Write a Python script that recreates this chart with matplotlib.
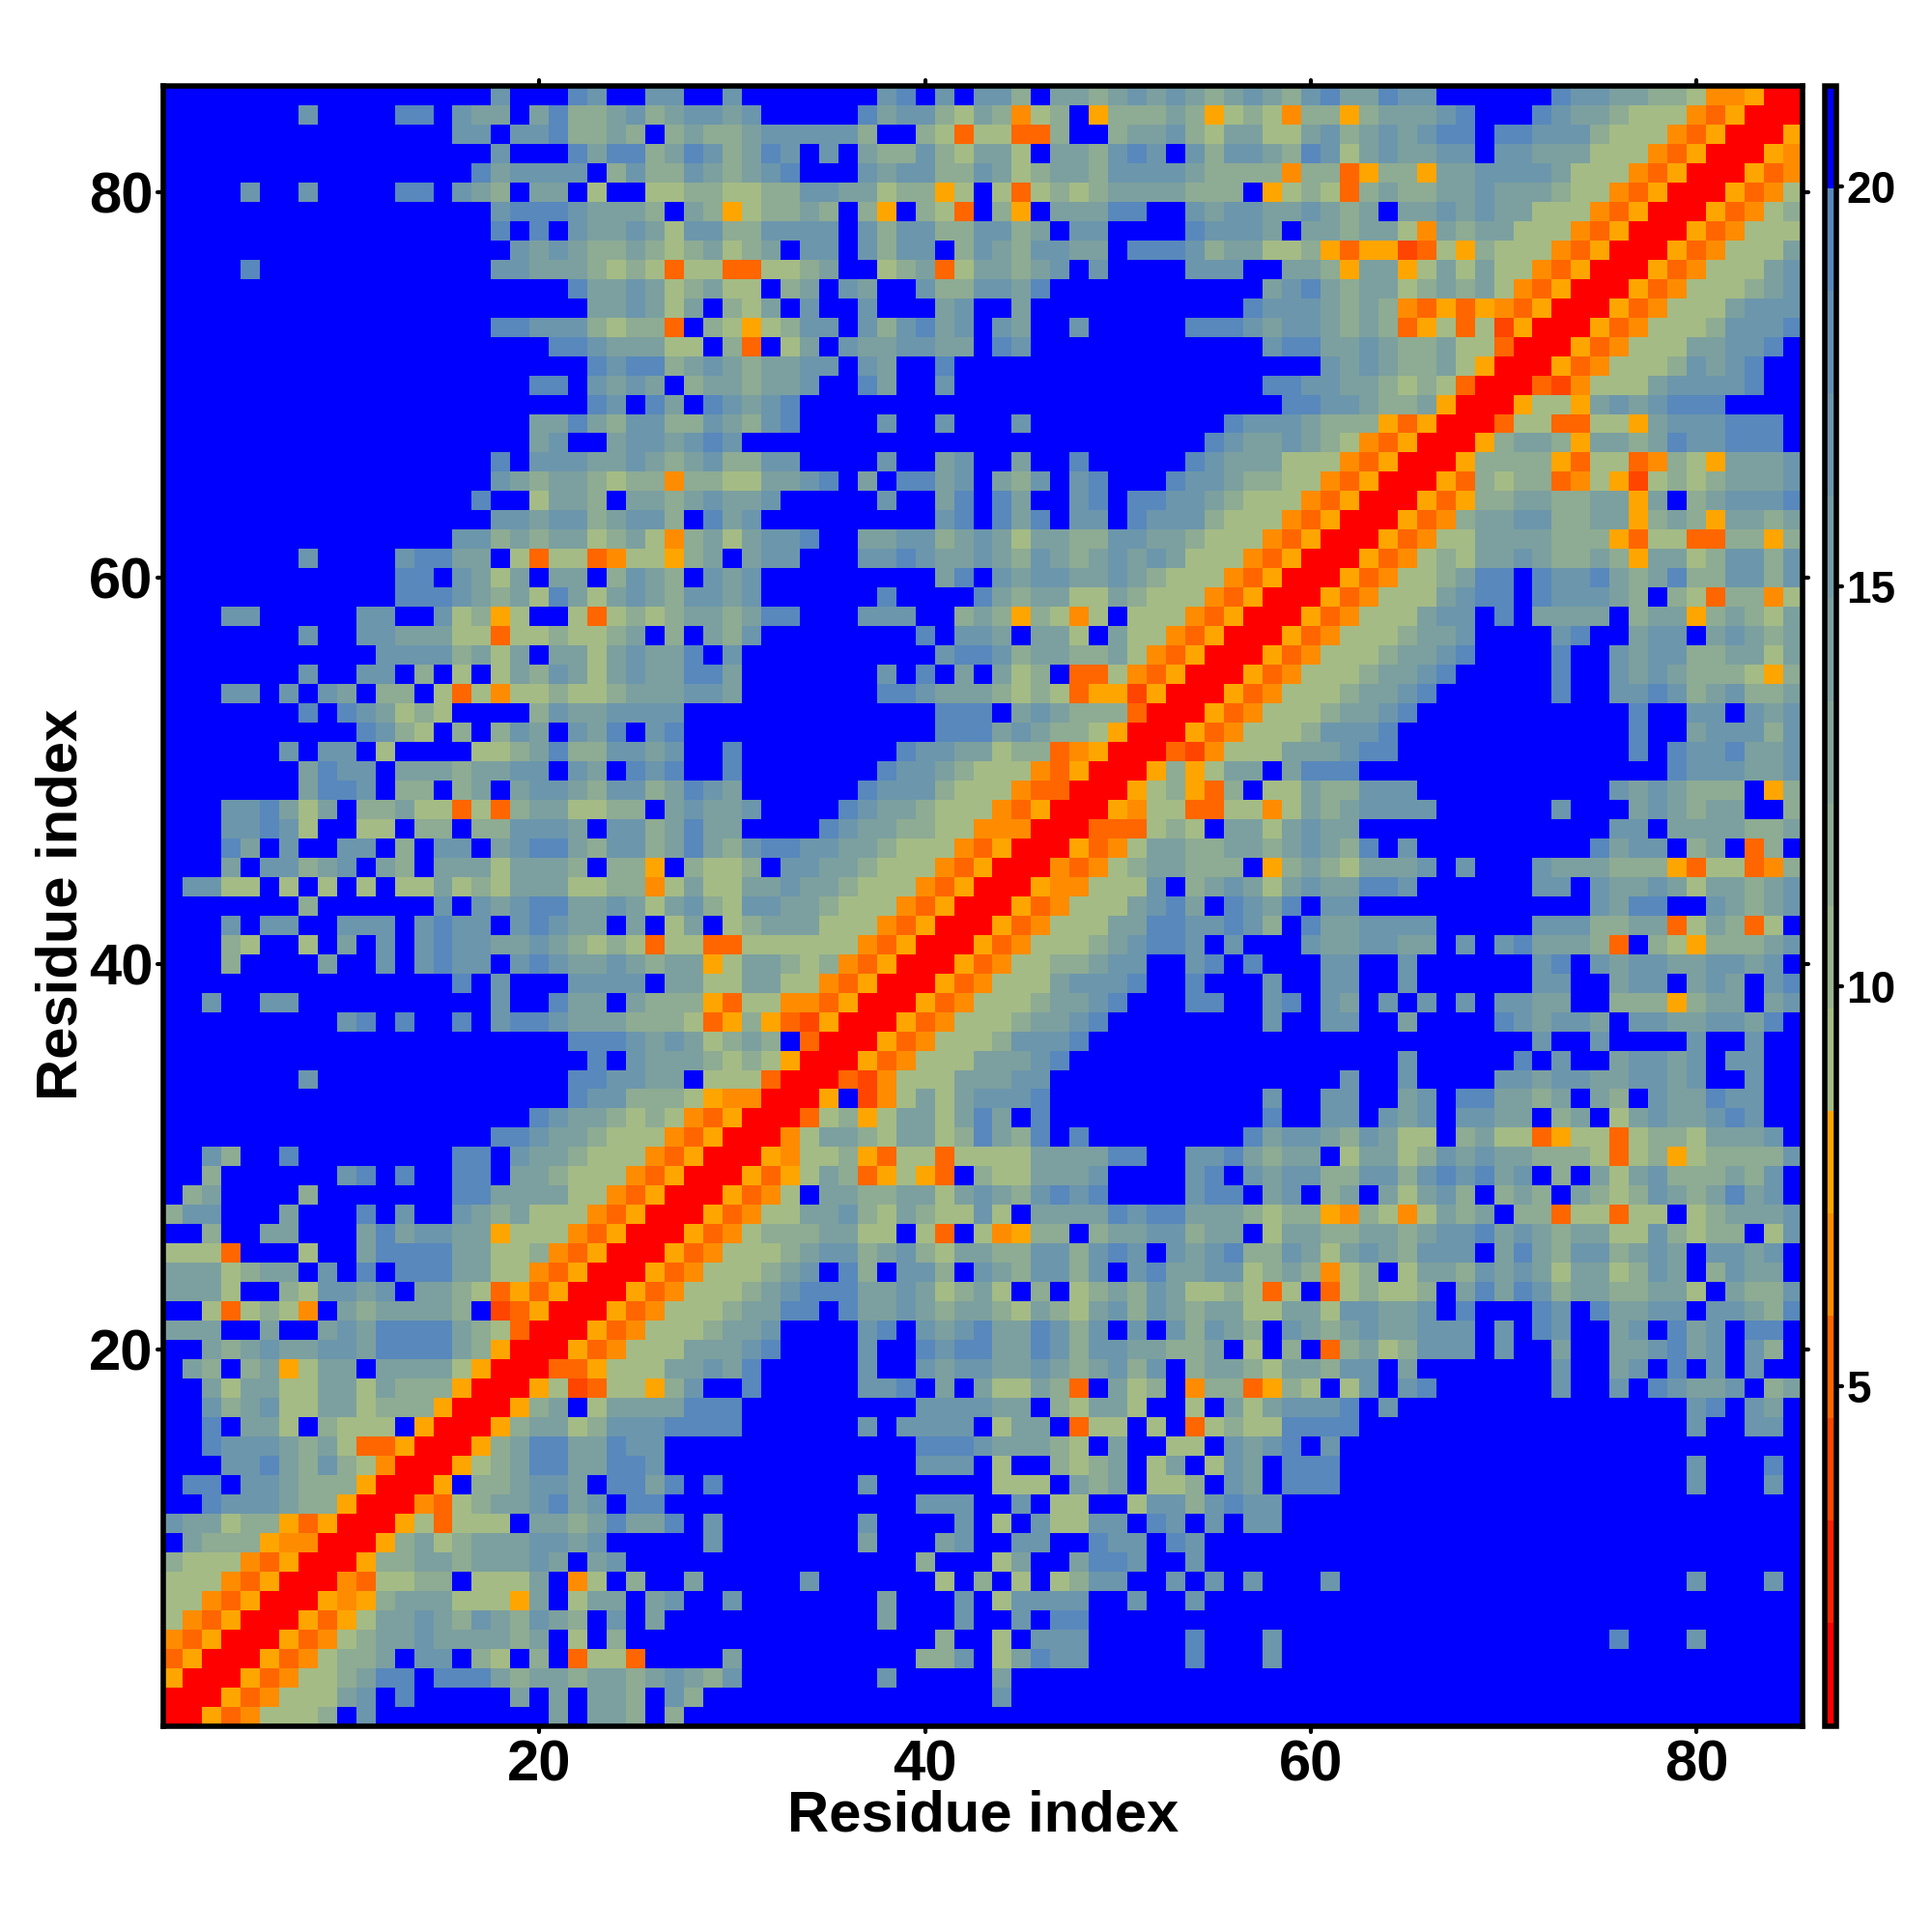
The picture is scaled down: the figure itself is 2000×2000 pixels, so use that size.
import numpy as np
import matplotlib
matplotlib.use("Agg")
import matplotlib.pyplot as plt
from matplotlib.colors import ListedColormap, BoundaryNorm
from matplotlib.markers import MarkerStyle, TICKLEFT, TICKRIGHT, TICKUP, TICKDOWN

plt.rcParams['font.family'] = ['Liberation Sans', 'DejaVu Sans']
plt.rcParams['font.weight'] = 'bold'

# distance map, run-length per row, top row (residue 85) first
# 3 columns of blocks: residues 1-28, 29-57, 58-85
top_left = [
"17b u 3b s u 2b 2u b",
"7b u 4b 2s b u 2t b t s 2h t u h t u",
"15b 2u b 2u s 2h t h b h t",
"17b u 3b s t 2s h t s",
"16b s t 4u b h u 2h u",
"4b u 2b u 4b 2s b u t h b 2t b g 2b 2g h",
"17b u 3s u t 2t h b t",
"17b s b s b u 2t u t g u",
"18b u t u t 2h t h g h",
"4b s 12b 2u 3t h g h g o g",
"21b s 2t u t g h",
"22b 2t u t g t",
"17b 2s 3u h g 2h o b",
"20b 2s u t 2t 2g",
"22b s u 2s h t",
"19b 2s b u t u t b h",
"22b s u b s t b",
"19b 2t s t h 2u 2h",
"19b t u 2b t 2u t u",
"17b s b 3u 2t u t h t",
"17b u t h 2t h g 2h O h",
"16b s 2b g 2t h b 2t h t",
"17b 2u t 2u h t 2u h b",
"15b 2u h t h 2t g h t g O h",
"7b u 4b u 2s 2t b g o 2g o O 2g y h",
"12b 2s b u t g t b 2t b h u t h b",
"12b 3s u t h t g s t g t u t h u",
"3b 2u 5b 2u 2b u g h y g 2b g o g h g h t",
]
top_mid = [
"b u 7b u s b u b 2u h b t t h t u t u t h t u",
"u t u 5b s t 2u h g t h O g h b y 3h t h y g h",
"2h t 5u h 2b h g o 2g 2o h 2b h 2t u h g 2t",
"u h t s u b u b t 2h u h g 2t g b 2t h u s u b u h 2u",
"t h t u s 3b u t 2u 2h u t g h 2t h 4u t 3h",
"h 2g 2h 2u 2t g 2h y g b g o g h g h 4t 2h h b",
"h y g 2h t h b h y b h g o b h y b 3t 2s 2b u t 2u",
"u 2h 4u b u h 2u 2h 2u h t b 2u 4b s 3u",
"t g h t b 2u b u h 2u b h u t h 2u 2t b 3s u h 2t",
"g 2o 2g h t 2b g h t o g 2t h t u b u 4b 3u b",
"t 2g b h t b u t 2b u 2h 2u t s 11b",
"b h g t b u 2b u 3b t u 2b t 11b s",
"h g y g h 2u b u h u s t u b u t 2b u 5b 3s u",
"b h o b g t b u 2t 2u 2t b s u 12b",
"u t h 2t 2u b u t 2b s 16b",
"2t h 2t u 2b s t 2b u 16b",
"s u t u s 24b",
"u t h u s 4b u 2b u 3b u 10b s u",
"s u 24b s u t",
"u 2h 2u 4b u 2b t u 2b t 2b s 5b s u 2t",
"h 2g 2t u s b t b 2s t u b t h u b u s 3b s 2u t h",
"u 2t u 5b u 2b t s b s t 2b u s b 2s u u t h g",
"s t u 9b u s b s t s b 2u b s 3u h 2g",
"t g t 2u s 2b 2t 2u h t u t g 2t 2h 2u 2t h 3g",
"t b t 2u 3b 2u s u 2t u t h u t h t u t u t 3g O",
"u t u 9b t s b u t 2u 2t u t h 3g O o",
"u t u 6b s 4b s t h 2t 2g t h 3g O o y",
"t h t 2s 3b 3u 2b h t h y h g O g b 3g O o y R",
]
top_right = [
"t h u s 2t s 2u 6b s 2u 2t 2h g 2O y 2R",
"g O 2h y h 3t u s 3b s u 2t h 3g O o y 3R",
"2g t u h t u t u 2s b 2s 3u h 3g O o y 3R y",
"t h s u g t u 2t 2u b 2u 3t 3g O o y 3R y O",
"h O 2h o y 2h y 2t 4u t 3g O o y 3R y o O",
"y g h g o h t 2h 2t u 3t h 2g O o y 3R y o O g",
"2t u t h t b 2t u t u 2t 3g O o y 3R y o O g h",
"t b 2t h 2t g O t h 2t 3g O o y 3R y o O 3g",
"2g h y o 2y x o g y h 3g O o y 3R y o O 3g t",
"b 2t h y 2t y g t g t 2g O o y 3R y o O 3g t u",
"t u s t h 2t g h t h t g O o y 3R y o O 3g h t u",
"3u t h t h O o y o y O o y 3R y o O 3g t 3u",
"t 2u t h t h o y g o g x y 3R y o O 3g h 3u s",
"u 2s 2t u t 2h t 2g o 3R y o O 3g 2t 2u s b",
"3b u t u t 2h t g y 3R y o O 3g h u t u s 2b",
"2s 2u 2t h g h g o 3R o x O 3g t 4u s 2b",
"b 2s 2u t 2h t y 3R y 2g y t u t u 3s 4b",
"2u t 3h y o y 3R o 2g 2o 2g y t 3u 3s b",
"t u t h g O o y 3R y h 2t h y 2t h t s 2u 3s b",
"t 3g O o y 3R y 4h y o 2g o O h g y 3t u",
"h 2g O o y 3R y o h g 2h o O g y x g h g h 3t u",
"2g O o y 3R y o y 2h 2t 2h 2t y t b h t 3u s",
"g O o y 3R y o O h 2t 2u 2h 2t y h t h y 2t h t",
"O o y 3R y o O 2g 4t 3h y o 2g 2o 2h y h",
"o y 3R y o O g h g 2t u t 2h t h y 2t g h 2u h u",
"y 3R y o O 2g h t 2s b s 2u s t h t s 2h 2u h u",
"3R y o O 3g t u 2s b s 3u t h b h g o 2h O g",
"2R y o O 3g t 2u b s b 4t b h 2t y h t h g t",
]
mid_left = [
"7b u 2b 2u 3t 2g o 2g h 2g h t b h b",
"11b 4u h t g t b 2t g t u 2t s",
"7b u 2b 2u b h b g b g t h u t g t u 2t s",
"3b 2u b u b u t b 2h b g o g O 2g h 2g h 3t u",
"7b s b s u t g h g 4b h u 2t 4u b",
"10b s u h g b h b h u t b u t s b u s b",
"6b u b 2u b g 4b 2g h t s 2h 2u t u b",
"7b t s 2u b 3t h 2t 2u b u t b s u s b",
"7b t 2s u b 2h b h t b t 2u t h 2u h t s",
"3b 2u s t g t b 2h t 2g o g o h 2t 2g 2h b t u",
"3b 2u s u g 2b 2g b 2h b 2h 3u t b 2u h t s",
"3b s t b u 2b 2u b h b 2u b t u 2s t h 2u h t s",
"3b t b 2u h t u b t h b 3t g 3t h b 2h y b h",
"b 2u 2g b g b g b g b 2g t g h g 3t 2g 2h O g t",
"7b h 6b u b u t u 2s 2t u t g t u",
"3b u b 2u 2b 3u b u s 2u b u s u 2t b t b g t",
"3b h g 2b g b t b u b u s 2u 2t u t h g h g o 2g",
"3b h 4b t 2b u b u s 2u b u s u 2t u t h 2t",
"15b s b u 3b 4u b 2t",
"2b u 2b 2u 10b u 2b s 2t b t 3h",
"9b u s b s 2b s b u 2s u 3t 3h g",
"21b 3s u t u t",
"22b s b u 3t",
"7b u 13b 2s 2u 2t b",
"21b s 2u 3h g",
"19b s u 2t h g h g O",
"17b 2s u 2t h 3g O o",
"2b u h 2b s 8b 2s b u 2t h 3g O o y",
"2b h 6b u s b s 2b 2s b 2t h 3g O o y R",
]
mid_mid = [
"t h u 8b s b 2u t b 2t g b t 2g O o y 2R",
"b u 10b u 2s u h 2t 2h t g O o y 3R",
"s t 7b u b s b t b t g h b 2o g O o y 3R y",
"u t 7b 2s u 3t h g h g o 2y x y 3R y o",
"12b 3s b t u t 3h o 3R y o O",
"12b 3s t u t 2h g y 3R y o O g",
"b s 8b s 2u 2t g 2h o O y 3R o x O 2g",
"b s 7b s 2u t h 3g O o y 3R y h y g 2t",
"u t 6b s 3u h 3g O 2o 3R y g h y o h b",
"2t u 4b s u 2t h 3g O o y 3R y O 2g 2o 2g",
"2t 4b s u 2t 2h 2g 3O 3R 3o g h g b 2t",
"t h u 2s 2u 2t h 3g O o y 3R y o O g 2t 2h 2t",
"2g h b 2u 2t h 3g O o y 3R O o O g h 2t 3h b",
"2g 2t u 2t h 3g O o y 3R y 2O 3g u b h t u t",
"h g 2u 2t h 3g O o y 3R y o O 3g t u s t b s u",
"b g h 3t 3g O o y 3R y o O 3g 2t 2s 2u s u",
"2o 6g O o y 3R y o O 3g h t u 2s u b u b",
"y g 2t h g h O o y 3R y o O 2g 2h t 2u 2b u s b s",
"2g 2t 2g O o y 3R y o O 3g t 3u s 2b s 3b",
"y o 2g 2O o y 3R y o O 3g h 2t u s 3b 2s 2b",
"o y h y o x y 3R y o O 3g h 2t u s 8b",
"g h t h b o 3R y o O 3g h 3u s 9b",
"h g h g y 3R y o O 3g t 2t u s 10b",
"3g o 3R o x O 3g t 2t 2u 11b",
"y 2O 3R y b x O g t g t 3u s 11b",
"o y 3R o g h y g 2t g t s t b s 11b",
"y 3R O g 2t h g 2t g h s t h s b s 8b s",
"3R y O 2g h y o 2g o 4g t 3t 2s 2b 2u s t",
"2R y o y g t h o y g y o b h 2g t 2t u 4b u s b u",
]
mid_right = [
"R y o O 3g h 2t u 4b u s 2b t 2u b t u t h t",
"y o O 3g h 2t u s 4b s 2b u t 2u 2h 2t g t",
"o O 3g h 2t u s 5b s 2b u t u t 3h g y h",
"O 3g h 2t u s 6b s 2b 2u s u h t u 2h t",
"3g h 2t u s 11b s 2b 2u b u t u",
"2g h 3u s 12b s 2b t 3u h u",
"g 3t u 2s 12b s b s 2u s 2t u",
"b t 3s 16b s 3u 2t u",
"2g t 2h 3u 10b u t u t 3h b y h",
"O g t h t 4u 6b u 3b t u t h 2t 2b h",
"g t u 2t 13b 2u b 4t 2h t",
"h t u t h s b u 9b s t 2u b h t b o h b",
"y h t h g 3t u b u 3b u 3t 3h y o 2g o O h",
"g t u 2t 2s u 6b 2u b u 2t u t g 2t h t u",
"t s b 2u 12b u t 2s 2b u t h t u",
"h b s 2t 3u u 5b 3u 2h 2t o g t h o g b",
"2b u 2t 2u 2t b u b u s 3t h o b h g y 3h t u",
"3b 2u 2b u 6b u s b u t 2u 2t 2u t u b",
"u 2b 2u 2b u 6b 2u 2b t 2u b t u t b u s",
"u s b u t b u b u b u b 2u 2t 2b 3h y h 2t b t u",
"u 2b 2u 2b t 4b s u t 2u t b 2u 2t 2u t s b",
"14b u 2b u 4b u 2b u 2b",
"7b u 5b s b u 2b t 2u t u b 2u 2b",
"4b u 2b u 4b 2u t 2u 2t 2u t u 2b u 2b",
"u 2b 2u 2b t u b 2s 2t h t b t h b u 2t s 2u 2b",
"s 2b 2u b u t u b 2u 2t b h t b g t u 2t u s u 2b",
"t 2u t h u t 2g b h t 2g o y 2g o g 2h g 3t u b",
"h 2t b g 2t g h u t u 2t 3h g o g h y g 4h u",
"t 2u 2h 2u h u s u s t u b h b t g t u 3h t h u b",
]
low_left = [
"b h t 4b h 7b 2s t 2t t 2g O o y 2R",
"h 2u 3b t 3b s b u 2b u t h t 3g O o y 3R",
"2b h 2b 2t 3b t s t 2u 2t y 3g O o y 3R y",
"3g o 3b g 2b t 4s 2t 2g h O o y 3R y o",
"3t g h 2t b u b s b 3s 2t 2g O o y 3R y o O",
"3t g 2b h g 2u t u b 2t h g o y o y 3R y o O g",
"2b g o g h g O b t h 4t h b x o y 3R y o O 2g",
"3t 2b t 2b t u t 4s t h g o 3R y o O 3g",
"2b t h t u 2t 2u t 4s t h y 3R y o O 3g t",
"b t h b h t y g 2t b 4t g y 3R 2o y 3g 2t",
"2b t g 2t 2g 2t g t 3h y 3R y g x o 2g y h u",
"2b u h t u 2g 2t g 3h y 3R y h t b g 4t s",
"2b s b 2t g b h 3g b y 3R y h 2t g h 3u 2s",
"2b s u 2u t h t g 2o y 3R y h t 2s 2t s 2u 2b",
"3b 2u s t h u h g O 3R y g h t 2s 2t 2s u 2b",
"b 2s b 2u t 3h y 3R y b 2h t 2u t b 2s t s b",
"2b s 3u t 2h y 3R O o g h 2t u s t u b 2s 2b",
"u 2t g 2h y o y 3R y g o 3g b 2t h t s 2t s b",
"b t 3h y 2O 3R y h t g h 3t 2u t u 5b",
"h 3g O o y 3R y 2h 2t h 3t u t b t u 4b",
"3g O o y 3R O o 2g 2h b 3g t b O g b h 2b t",
"2g O o y 3R y O y h 3t 3g y t b g 2t b t u b",
"g O o y 3R y o y g 2t u t h u t h u t h b u b t 2b",
"O o y 3R y o O g h 2t u 4t h t b g b h 4b",
"o y 3R y o O g 2h t b 2u b h g b h b o 2g o 3b",
"y 3R y o O 2g h t 2s b 3s t h 2t h 2t h t u t",
"3R y o O 3g t u b s 5b t b t b 2t h b u h",
"2R y o O 3g h b u 9b t b 2t h b h b",
]
low_mid = [
"R y o O g b 2t 2h 2t g t u t h u s u s 4b u 2s b",
"y o O 2g 2t u h g t h 2g u g b 3t t s u 2s 3t h",
"o O g 3h 2t 2g b g o b g O y 2h b h 2t 2u h 2t b",
"O 3g h t 2u h t u h g 2t 2h 2u h u s u b u t u s h",
"3g h t u b s h b 2u h b u t h 2u h u b u s 2t 2u g",
"2g h t u 3s 2t u t g h t g b h b g h t h u t 2g h g",
"g h 2t 2s b s 2t u t h 2t h g t h g t u h u t h 2t g",
"h 2t u 4b u s b u t u s 2t s u h u b u b u h u t h",
"2t u s 4b u 2b s u 2s 2t s u h 2u 2t 2h t b g",
"u t s 5b u 2b u t 2u 2t u t h t u h u b h 2t h",
"2b s 5b 2u s b t b t 2g t h o b t g h b O 2h o",
"2s 9b 4u 2t b h g 2t g 2b g b t g",
"2s 6b u b 4u b g 2t b o 2g b g b o g h g",
"11b 3s u 3t h g b t 2b 2g b u t",
"11b 3u b g 2b h g h t b g t b g u t",
"s 7b u 6b 3g b t h t b 2g h b u t",
"11b 3u 2b u b 2g 2b g 2u h u s u",
"u 7b u 4b u b g b u 2g 2u b s u b u b u",
"u 7b t 3b t u 2b 2u 2b s 2u b s u 3b",
"11b h 3b g t 2b t 2s u 2b u 3b",
"5b u 6b g b h b g b g h 2u 2b u b u b u",
"b u 7b t 3b u b g 4u 2b u 2b u 3b",
"9b t 3b u 2b u b 2s 9b",
"12b h 2b g b 3u 5b s 3b",
"b t 9b 2h u b g t s 2u 5b s 3b",
"h u 7b u 5b t 13b",
"15b u 13b",
"29b",
]
low_right = [
"t u b h t b t g t u h b h t h b t h g h u t h t s t u b",
"g 2h y O h g O g t h t b 2h o 2g o 2g b g h 3t u",
"g 2t 2h 2t h t 2u s t u t h 2t 2g u h g 2h b g u",
"h u t g t u t h 3u b t s t h 2u h t u t b 2u t u b",
"h t h O g h b g 2t h u t u t g 2t g h u t b h u 2t b",
"o g b o g h 2g h b t s t s u h 2t 2h 2t g b t 2h u",
"g 2t g 2u 2t u b s 3b s u b s 2t 2u b 2u t h s",
"b u t h t u 2t 3u b u b s u 2b t u b s t u b 2s b",
"b h b o h t g h 3u b u 2b t 2b 2t u s t u b u h b",
"g 2t h 2u b t 7b u 2b t u b s b u b u 2b",
"y h g b g u b u s 6b u 2b u b s u 2t u b h t",
"t 3u s b u 15b u s b u t b",
"g 4s 17b u 2b 2u b",
"u s b u 24b",
"b 3s 18b u 3b s b",
"b 3s 18b u 3b u b",
"u 27b",
"u 27b",
"28b",
"28b",
"3b u 18b u 3b u b",
"28b",
"28b",
"u 17b s 3b u 5b",
"u 27b",
"28b",
"28b",
"28b",
]

level_colors = ['#ff0000', '#ff2200', '#ff4500', '#ff6600', '#ff8c00', '#ffa500',
                '#a4bb85', '#99b38b', '#8eab93', '#84a59a', '#7ca09f', '#749ba6',
                '#6c96ac', '#648fb2', '#5888bc', '#0000ff']
letter_level = {'R': 0, 'x': 2, 'o': 3, 'O': 4, 'y': 5, 'g': 6, 'h': 8,
                't': 10, 'u': 12, 's': 14, 'b': 15}
edges = np.linspace(0.75, 21.25, 17)
axis_ticks = [20, 40, 60, 80]
bar_ticks = [5, 10, 15, 20]


def decode(row, width):
    out = []
    for tok in row.split():
        n = int(tok[:-1]) if len(tok) > 1 else 1
        out += [letter_level[tok[-1]]] * n
    if len(out) != width:
        raise ValueError(f"{row!r}: {len(out)} != {width}")
    return out


def block_rows(left, mid, right):
    return [decode(a, 28) + decode(b, 29) + decode(c, 28) for a, b, c in zip(left, mid, right)]


rows = (block_rows(top_left, top_mid, top_right)
        + block_rows(mid_left, mid_mid, mid_right)
        + block_rows(low_left, low_mid, low_right))
levels = np.array(rows)[::-1]
values = (edges[levels] + edges[levels + 1]) / 2

cmap = ListedColormap(level_colors)
norm = BoundaryNorm(edges, cmap.N)
lw = 2.0

fig = plt.figure(figsize=(10, 10), dpi=200)
ax = fig.add_axes([169 / 2000, 1 - 1786.5 / 2000, 1697 / 2000, 1697.5 / 2000])
grid = np.arange(0.5, 86)
mesh = ax.pcolormesh(grid, grid, values, cmap=cmap, norm=norm, antialiased=False)
ax.set_xlim(0.5, 85.5)
ax.set_ylim(0.5, 85.5)
ax.set_xticks(axis_ticks)
ax.set_yticks(axis_ticks)
ax.tick_params(axis='both', which='major', direction='out', length=2.2, width=1.5,
               top=True, right=True, labelsize=21.5, pad=3)
ax.tick_params(axis='y', pad=1.5)
for spine in ax.spines.values():
    spine.set_linewidth(lw)

# round tick ends
for axis, m1, m2 in ((ax.xaxis, TICKDOWN, TICKUP), (ax.yaxis, TICKLEFT, TICKRIGHT)):
    for tick in axis.get_major_ticks():
        tick.tick1line.set_marker(MarkerStyle(m1, capstyle='round'))
        tick.tick2line.set_marker(MarkerStyle(m2, capstyle='round'))

fig.text(1018 / 2000, 1 - 1880 / 2000, "Residue index", fontsize=21.5, fontweight='bold',
         ha='center', va='center')
fig.text(64 / 2000, 1 - 936 / 2000, "Residue index", fontsize=21.5, fontweight='bold',
         ha='center', va='center', rotation=90)

cax = fig.add_axes([1889 / 2000, 1 - 1786.5 / 2000, 12 / 2000, 1697.5 / 2000])
cb = fig.colorbar(mesh, cax=cax, ticks=bar_ticks, spacing='proportional', drawedges=False)
cb.minorticks_off()
cb.outline.set_linewidth(lw)
cb.ax.tick_params(direction='out', length=2.2, width=1.5, labelsize=16.5, pad=1.5)
for tick in cb.ax.yaxis.get_major_ticks():
    tick.tick2line.set_marker(MarkerStyle(TICKRIGHT, capstyle='round'))

fig.savefig("out.png", dpi=200)
